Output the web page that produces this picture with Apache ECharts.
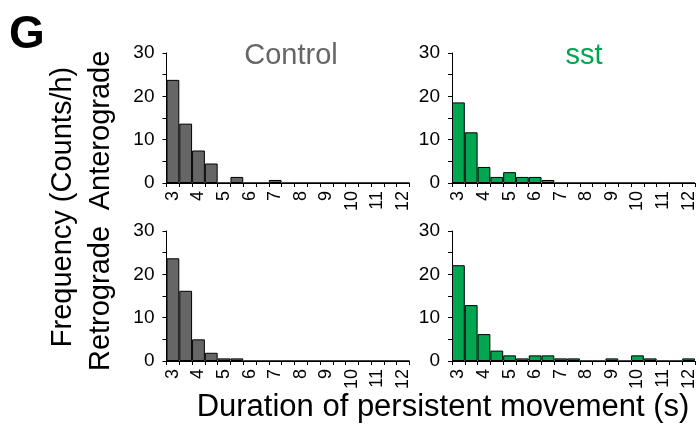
<!DOCTYPE html>
<html>
<head>
<meta charset="utf-8">
<script src="https://cdn.jsdelivr.net/npm/echarts@6/dist/echarts.min.js"></script>
<style>
html,body{margin:0;padding:0;background:#fff;}
#chart{width:699px;height:428px;}
</style>
</head>
<body>
<div id="chart"></div>
<script>
// Duration bins (s), 0.5 s wide
var categories = ['3','3.5','4','4.5','5','5.5','6','6.5','7','7.5','8','8.5','9','9.5','10','10.5','11','11.5','12'];
var yTicks = [0, 10, 20, 30];
// Frequency (Counts/h)
var controlAntero = [23.8, 13.7, 7.5, 4.5, 0, 1.4, 0, 0, 0.7, 0, 0, 0, 0, 0, 0, 0, 0, 0, 0];
var sstAntero     = [18.6, 11.7, 3.7, 1.4, 2.5, 1.4, 1.4, 0.7, 0, 0, 0, 0, 0, 0, 0, 0, 0, 0, 0];
var controlRetro  = [23.7, 16.2, 5.0, 1.9, 0.6, 0.6, 0, 0, 0, 0, 0, 0, 0, 0, 0, 0, 0, 0, 0];
var sstRetro      = [22.1, 12.9, 6.2, 2.4, 1.3, 0.6, 1.3, 1.3, 0.6, 0.6, 0, 0, 0.6, 0, 1.3, 0.6, 0, 0, 0.6];

var GRAY = '#666666';
var GREEN = '#00a650';
var FONT = '"Liberation Sans", Arial, Helvetica, sans-serif';

var chart = echarts.init(document.getElementById('chart'), null, {renderer: 'canvas'});

var grids = [
  {left: 166.5, top: 53, width: 243, height: 130},
  {left: 452, top: 53, width: 243, height: 130},
  {left: 166.5, top: 231, width: 243, height: 130},
  {left: 452, top: 231, width: 243, height: 130}
];
var seriesData = [controlAntero, sstAntero, controlRetro, sstRetro];
var colors = [GRAY, GREEN, GRAY, GREEN];

var xAxes = [], yAxes = [], series = [];
for (var i = 0; i < 4; i++) {
  xAxes.push({
    type: 'category', gridIndex: i, data: categories, boundaryGap: true,
    axisLine: {show: true, lineStyle: {color: '#000', width: 1}},
    axisTick: {show: true, interval: 0, length: 4, inside: false, lineStyle: {color: '#000', width: 1}},
    axisLabel: {
      interval: 1, rotate: 90, margin: 8, color: '#000', fontSize: 18, fontFamily: FONT
    },
    splitLine: {show: false}
  });
  yAxes.push({
    type: 'value', gridIndex: i, min: 0, max: 30, interval: 5,
    axisLine: {show: true, lineStyle: {color: '#000', width: 1}},
    axisTick: {show: true, length: 4, inside: false, lineStyle: {color: '#000', width: 1}},
    axisLabel: {
      margin: 12, color: '#000', fontSize: 19, fontFamily: FONT,
      formatter: function (v) { return yTicks.indexOf(v) >= 0 ? String(v) : ''; }
    },
    splitLine: {show: false}
  });
  series.push({
    type: 'bar', xAxisIndex: i, yAxisIndex: i, data: seriesData[i],
    barCategoryGap: '0%', barGap: '0%',
    itemStyle: {color: colors[i], borderColor: '#000', borderWidth: 1},
    silent: true, animation: false
  });
}

var option = {
  backgroundColor: '#fff',
  animation: false,
  grid: grids,
  xAxis: xAxes,
  yAxis: yAxes,
  series: series,
  graphic: [
    {type: 'text', x: 27, y: 35, style: {text: 'G', font: 'bold 46px ' + FONT, fill: '#000', textAlign: 'center', textVerticalAlign: 'middle'}},
    {type: 'text', x: 63, y: 207, rotation: Math.PI / 2, style: {text: 'Frequency (Counts/h)', font: '29px ' + FONT, fill: '#000', textAlign: 'center', textVerticalAlign: 'middle'}},
    {type: 'text', x: 101, y: 130.5, rotation: Math.PI / 2, style: {text: 'Anterograde', font: '29px ' + FONT, fill: '#000', textAlign: 'center', textVerticalAlign: 'middle'}},
    {type: 'text', x: 101, y: 298.5, rotation: Math.PI / 2, style: {text: 'Retrograde', font: '29px ' + FONT, fill: '#000', textAlign: 'center', textVerticalAlign: 'middle'}},
    {type: 'text', x: 291, y: 56, style: {text: 'Control', font: '29px ' + FONT, fill: GRAY, textAlign: 'center', textVerticalAlign: 'middle'}},
    {type: 'text', x: 584, y: 56, style: {text: 'sst', font: '29px ' + FONT, fill: GREEN, textAlign: 'center', textVerticalAlign: 'middle'}},
    {type: 'text', x: 443, y: 407, style: {text: 'Duration of persistent movement (s)', font: '31px ' + FONT, fill: '#000', textAlign: 'center', textVerticalAlign: 'middle'}}
  ]
};
chart.setOption(option);
</script>
</body>
</html>
